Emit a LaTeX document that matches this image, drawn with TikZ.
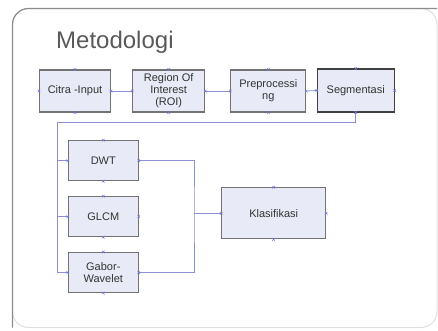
\documentclass[tikz,border=0pt]{standalone}
\usepackage{fontspec}
\setmainfont{Liberation Sans}
\usetikzlibrary{calc}
\definecolor{kotakisi}{rgb}{.91,.92,.97}
\definecolor{garis}{rgb}{.55,.57,.84}
\definecolor{bingkai}{gray}{.55}

\begin{document}
\begin{tikzpicture}[
x=1pt, y=-1pt,
font=\fontsize{11}{12}\selectfont,
kotak/.style={draw=gray!90!black, line width=1.1pt, fill=kotakisi, text=black!80, align=center, inner sep=1pt},
hub/.style={draw=garis, line width=0.8pt},
cpt/.style={draw=garis!80!blue, line width=0.5pt}
]
\useasboundingbox (0,0) rectangle (438,330);

% Bingkai slide
\draw[gray!25, line width=1pt, rounded corners=16pt] (12.5,8.5) rectangle (437,327.5);
\draw[bingkai, line width=1.2pt, rounded corners=16pt] (12.5,327.5) -- (12.5,8.5) -- (437,8.5);

% Judul
\node[anchor=base west, text=black!65, font=\fontsize{24}{26}\selectfont, inner sep=0pt] (judul) at (56,48) {Metodologi};

% Baris atas
\node[kotak, minimum width=71pt, minimum height=42pt] (cit) at (75,91) {Citra -Input};
\node[kotak, minimum width=72pt, minimum height=42pt] (roi) at (168.7,91) {Region Of\\Interest\\(ROI)};
\node[kotak, minimum width=75pt, minimum height=42pt] (pre) at (268.3,91) {Preprocessi\\ng};
\node[kotak, draw=black!75, minimum width=77pt, minimum height=43pt] (seg) at (355.7,90.5) {Segmentasi};

% Ekstraksi ciri
\node[kotak, minimum width=70pt, minimum height=40pt] (dwt) at (103.3,160.7) {DWT};
\node[kotak, minimum width=70pt, minimum height=40pt] (glcm) at (103.3,216.7) {GLCM};
\node[kotak, minimum width=70pt, minimum height=40pt] (gab) at (103.3,272.5) {Gabor-\\Wavelet};

% Klasifikasi
\node[kotak, minimum width=104pt, minimum height=51pt] (kla) at (273.7,213.3) {Klasifikasi};

% Garis penghubung
\coordinate (busl) at (57.7,122.7);
\coordinate (busr) at (194,213.3);
\draw[hub] (cit.east) -- (roi.west);
\draw[hub] (roi.east) -- (pre.west);
\draw[hub] (pre.east) -- (seg.west);
\draw[hub] (seg.south) |- (busl) |- (gab.west);
\draw[hub] (busl |- dwt.west) -- (dwt.west);
\draw[hub] (busl |- glcm.west) -- (glcm.west);
\draw[hub] (dwt.east) -| (busr) |- (gab.east);
\draw[hub] (busr) -- (kla.west);

% Titik sambung
\foreach \n in {cit,roi,pre,seg,dwt,glcm,gab,kla}
  \foreach \a in {north,south,east,west}
    \draw[cpt] (\n.\a) +(-1.3,-1.3) -- +(1.3,1.3) +(-1.3,1.3) -- +(1.3,-1.3);
\end{tikzpicture}
\end{document}
